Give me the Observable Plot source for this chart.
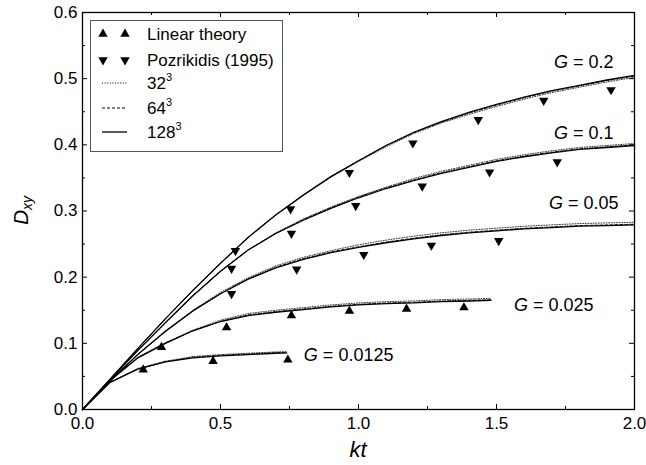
<!DOCTYPE html>
<html><head><meta charset="utf-8">
<script src="https://cdn.jsdelivr.net/npm/d3@7"></script>
<script src="https://cdn.jsdelivr.net/npm/@observablehq/plot@0.6"></script>
<style>body{margin:0;background:#fff}</style>
</head><body><div id="chart"></div>
<script>
// ---- data ----
const ktGrid = [0,0.1,0.2,0.3,0.4,0.5,0.6,0.7,0.8,0.9,1.0,1.1,1.2,1.3,1.4,1.5,1.6,1.7,1.8,1.9,2.0];
const ktG025 = [0,0.1,0.2,0.3,0.4,0.5,0.6,0.7,0.8,0.9,1.0,1.1,1.2,1.3,1.4,1.48];
const ktG0125 = [0,0.1,0.2,0.3,0.4,0.5,0.6,0.7,0.74];

const D128_G02 = [0,0.046,0.092,0.137,0.180,0.221,0.260,0.294,0.324,0.352,0.376,0.399,0.419,0.435,0.449,0.461,0.472,0.482,0.490,0.498,0.505];
const D64_G02  = [0,0.046,0.092,0.137,0.180,0.221,0.260,0.294,0.324,0.352,0.376,0.399,0.418,0.434,0.448,0.460,0.471,0.481,0.489,0.497,0.504];
const D32_G02  = [0,0.046,0.092,0.137,0.180,0.221,0.260,0.294,0.324,0.351,0.375,0.397,0.417,0.433,0.446,0.458,0.469,0.479,0.487,0.495,0.502];

const D128_G01 = [0,0.045,0.089,0.131,0.172,0.209,0.241,0.266,0.286,0.304,0.320,0.334,0.346,0.357,0.366,0.375,0.382,0.388,0.393,0.396,0.399];
const D64_G01  = [0,0.045,0.089,0.131,0.172,0.209,0.241,0.266,0.287,0.305,0.321,0.335,0.347,0.358,0.367,0.376,0.383,0.389,0.394,0.397,0.400];
const D32_G01  = [0,0.045,0.089,0.131,0.172,0.209,0.241,0.267,0.288,0.306,0.322,0.336,0.349,0.360,0.369,0.378,0.385,0.391,0.396,0.399,0.402];

const D128_G005 = [0,0.043,0.083,0.118,0.149,0.175,0.197,0.214,0.227,0.237,0.245,0.252,0.258,0.263,0.267,0.270,0.273,0.275,0.277,0.278,0.279];
const D64_G005  = [0,0.043,0.083,0.118,0.149,0.175,0.197,0.215,0.228,0.238,0.246,0.253,0.259,0.264,0.268,0.271,0.274,0.276,0.278,0.279,0.280];
const D32_G005  = [0,0.043,0.083,0.119,0.150,0.177,0.199,0.217,0.230,0.240,0.249,0.256,0.262,0.267,0.271,0.274,0.277,0.279,0.281,0.282,0.283];

const D128_G0025 = [0,0.044,0.078,0.100,0.119,0.133,0.142,0.147,0.151,0.155,0.158,0.160,0.161,0.163,0.164,0.165];
const D64_G0025  = [0,0.044,0.078,0.100,0.119,0.133,0.143,0.148,0.152,0.156,0.159,0.161,0.162,0.164,0.165,0.166];
const D32_G0025  = [0,0.044,0.079,0.101,0.120,0.135,0.145,0.150,0.154,0.158,0.161,0.163,0.164,0.166,0.167,0.168];

const D128_G00125 = [0,0.041,0.061,0.072,0.078,0.081,0.083,0.085,0.0855];
const D64_G00125  = [0,0.041,0.061,0.072,0.079,0.082,0.084,0.086,0.086];
const D32_G00125  = [0,0.041,0.062,0.073,0.080,0.083,0.085,0.087,0.0875];

// Linear theory (up triangles)
const linKt = [0.22,0.473,0.744,0.286,0.522,0.757,0.967,1.174,1.382];
const linD  = [0.060,0.073,0.075,0.094,0.124,0.142,0.149,0.152,0.154];
// Pozrikidis (1995) (down triangles)
const pozKt = [0.54,0.776,1.019,1.264,1.508, 0.54,0.757,0.99,1.231,1.475,1.72, 0.554,0.754,0.967,1.197,1.434,1.671,1.915];
const pozD  = [0.175,0.212,0.234,0.248,0.255, 0.213,0.266,0.308,0.3375,0.3587,0.374, 0.240,0.303,0.358,0.4025,0.438,0.467,0.483];

const gLabels = ["G = 0.2","G = 0.1","G = 0.05","G = 0.025","G = 0.0125"];
const gLabelKt = [1.924,1.924,1.942,1.563,0.802];
const gLabelD  = [0.525,0.4176,0.3118,0.157,0.0816];
const gLabelAnchor = ["end","end","end","start","start"];

const xMajor = [0,0.5,1.0,1.5,2.0];
const xMinor = [0.25,0.75,1.25,1.75];
const yMajor = [0,0.1,0.2,0.3,0.4,0.5,0.6];
const yMinor = [0.05,0.15,0.25,0.35,0.45,0.55];

const legendLabels = ["Linear theory","Pozrikidis (1995)","32","64","128"];

// ---- build tables ----
const series = [
  {g:"0.2", kt:ktGrid, r128:D128_G02, r64:D64_G02, r32:D32_G02},
  {g:"0.1", kt:ktGrid, r128:D128_G01, r64:D64_G01, r32:D32_G01},
  {g:"0.05", kt:ktGrid, r128:D128_G005, r64:D64_G005, r32:D32_G005},
  {g:"0.025", kt:ktG025, r128:D128_G0025, r64:D64_G0025, r32:D32_G0025},
  {g:"0.0125", kt:ktG0125, r128:D128_G00125, r64:D64_G00125, r32:D32_G00125}
];
function rows(res){ return series.flatMap(s => s.kt.map((k,i)=>({g:s.g, kt:k, d:s["r"+res][i]}))); }
const linRows = linKt.map((k,i)=>({kt:k, d:linD[i]}));
const pozRows = pozKt.map((k,i)=>({kt:k, d:pozD[i]}));
const labRows = gLabels.map((t,i)=>({t, kt:gLabelKt[i], d:gLabelD[i], a:gLabelAnchor[i]}));

const triDown = {draw(context, size){
  const s3 = Math.sqrt(3);
  const y = -Math.sqrt(size/(s3*3));
  context.moveTo(0, -y*2);
  context.lineTo(-s3*y, y);
  context.lineTo(s3*y, y);
  context.closePath();
}};

const W = 646, H = 465, mL = 82, mR = 12, mT = 12, mB = 56;
const innerW = W - mL - mR, innerH = H - mT - mB;
const R = 3.5;

const plot = Plot.plot({
  width: W, height: H,
  marginLeft: mL, marginRight: mR, marginTop: mT, marginBottom: mB,
  style: {fontFamily: "'Liberation Sans', Arial, sans-serif", fontSize: "17px", background: "white", color: "black", overflow: "visible"},
  x: {domain: [0, 2], ticks: xMajor, tickFormat: d3.format(".1f"), tickSize: 0, tickPadding: 7, label: null},
  y: {domain: [0, 0.6], ticks: yMajor, tickFormat: d3.format(".1f"), tickSize: 0, tickPadding: 5, label: null},
  marks: [
    Plot.line(rows(32), {x:"kt", y:"d", z:"g", stroke:"#333", strokeWidth:1, strokeDasharray:"1,1.6"}),
    Plot.line(rows(64), {x:"kt", y:"d", z:"g", stroke:"#222", strokeWidth:1, strokeDasharray:"3,2"}),
    Plot.line(rows(128), {x:"kt", y:"d", z:"g", stroke:"black", strokeWidth:1.3}),
    Plot.dot(linRows, {x:"kt", y:"d", symbol:"triangle", r:R, fill:"black", stroke:"none"}),
    Plot.dot(pozRows, {x:"kt", y:"d", symbol:triDown, r:R, fill:"black", stroke:"none"}),
    Plot.text(labRows.filter(d=>d.a==="end"), {x:"kt", y:"d", text:"t", textAnchor:"end", fontSize:18, fill:"black"}),
    Plot.text(labRows.filter(d=>d.a==="start"), {x:"kt", y:"d", text:"t", textAnchor:"start", fontSize:18, fill:"black"}),
    Plot.ruleX(xMajor, {x:d=>d, insetTop: innerH-5, stroke:"black"}),
    Plot.ruleX(xMajor, {x:d=>d, insetBottom: innerH-5, stroke:"black"}),
    Plot.ruleX(xMinor, {x:d=>d, insetTop: innerH-3, stroke:"black"}),
    Plot.ruleX(xMinor, {x:d=>d, insetBottom: innerH-3, stroke:"black"}),
    Plot.ruleY(yMajor, {y:d=>d, insetRight: innerW-5, stroke:"black"}),
    Plot.ruleY(yMajor, {y:d=>d, insetLeft: innerW-5, stroke:"black"}),
    Plot.ruleY(yMinor, {y:d=>d, insetRight: innerW-3, stroke:"black"}),
    Plot.ruleY(yMinor, {y:d=>d, insetLeft: innerW-3, stroke:"black"}),
    Plot.frame({stroke:"black", strokeWidth:1.3})
  ]
});
document.getElementById("chart").appendChild(plot);

const svg = d3.select(plot);
svg.selectAll("text").each(function(){
  const s = this.textContent;
  if (s.startsWith("G = ")) {
    const t = d3.select(this);
    t.text(null);
    t.append("tspan").attr("font-style","italic").text("G");
    t.append("tspan").text(s.slice(1));
  }
});

// axis titles
svg.append("text").attr("x", mL + innerW/2).attr("y", 457)
  .attr("text-anchor","middle").attr("font-size", 22).attr("font-style","italic").attr("fill","black").text("kt");
const yt = svg.append("text").attr("transform", `translate(28,${mT + innerH/2}) rotate(-90)`)
  .attr("text-anchor","middle").attr("font-size", 21).attr("fill","black");
yt.append("tspan").attr("font-style","italic").text("D");
yt.append("tspan").attr("font-style","italic").attr("font-size",14).attr("dy","0.3em").text("xy");

// legend
const lg = svg.append("g").attr("font-size", 17).attr("fill","black").attr("text-anchor","start");
lg.append("rect").attr("x",90.5).attr("y",20.5).attr("width",192).attr("height",131)
  .attr("fill","white").attr("stroke","#555").attr("stroke-width",1);
const rowsY = [34, 60, 83, 108, 132];
const sym = d3.symbol().size(Math.PI*R*R);
[103,125].forEach(x => {
  lg.append("path").attr("d", sym.type(d3.symbolTriangle)()).attr("transform",`translate(${x},${rowsY[0]})`);
  lg.append("path").attr("d", sym.type(triDown)()).attr("transform",`translate(${x},${rowsY[1]})`);
});
const dashes = ["1,1.6","3,2",null];
const lw = [1,1,1.3];
[2,3,4].forEach((r,i) => {
  const l = lg.append("line").attr("x1",102).attr("x2",127).attr("y1",rowsY[r]).attr("y2",rowsY[r])
    .attr("stroke","black").attr("stroke-width",lw[i]);
  if (dashes[i]) l.attr("stroke-dasharray", dashes[i]);
});
legendLabels.forEach((t,i) => {
  const tx = lg.append("text").attr("x",147).attr("y",rowsY[i]).attr("dy","0.35em").attr("text-anchor","start").text(t);
  if (i >= 2) tx.append("tspan").attr("font-size",11).attr("dy","-0.75em").text("3");
});
</script>
</body></html>
